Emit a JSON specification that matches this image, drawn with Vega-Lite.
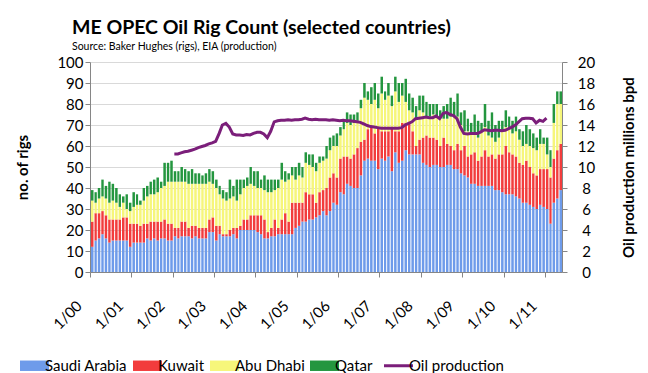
{
  "$schema": "https://vega.github.io/schema/vega-lite/v6.json",
  "width": 472,
  "height": 210,
  "autosize": {"type": "none"},
  "padding": {"left": 90, "top": 62, "right": 86, "bottom": 101},
  "background": "white",
  "config": {
    "font": "Lato",
    "view": {"stroke": null},
    "axis": {"domainColor": "#868686", "tickColor": "#868686", "labelColor": "black", "titleColor": "black", "gridColor": "#D9D9D9"}
  },
  "title": {
    "text": "ME OPEC Oil Rig Count (selected countries)",
    "subtitle": "Source: Baker Hughes (rigs), EIA (production)",
    "anchor": "start",
    "frame": "group",
    "dx": -18,
    "font": "Lato",
    "fontSize": 19.5,
    "fontWeight": "bold",
    "color": "black",
    "subtitleFont": "Lato",
    "subtitleFontSize": 10.5,
    "subtitleColor": "black",
    "subtitlePadding": 3,
    "offset": 2
  },
  "data": {"values": [
    {"m":"2000-01-15","Saudi Arabia":12,"Kuwait":12,"Abu Dhabi":10,"Qatar":5},
    {"m":"2000-02-15","Saudi Arabia":15,"Kuwait":13,"Abu Dhabi":5,"Qatar":5},
    {"m":"2000-03-15","Saudi Arabia":16,"Kuwait":12,"Abu Dhabi":7,"Qatar":5},
    {"m":"2000-04-15","Saudi Arabia":18,"Kuwait":11,"Abu Dhabi":7,"Qatar":8},
    {"m":"2000-05-15","Saudi Arabia":16,"Kuwait":11,"Abu Dhabi":8,"Qatar":6},
    {"m":"2000-06-15","Saudi Arabia":14,"Kuwait":11,"Abu Dhabi":8,"Qatar":10},
    {"m":"2000-07-15","Saudi Arabia":15,"Kuwait":10,"Abu Dhabi":9,"Qatar":8},
    {"m":"2000-08-15","Saudi Arabia":15,"Kuwait":10,"Abu Dhabi":8,"Qatar":7},
    {"m":"2000-09-15","Saudi Arabia":15,"Kuwait":10,"Abu Dhabi":6,"Qatar":6},
    {"m":"2000-10-15","Saudi Arabia":15,"Kuwait":11,"Abu Dhabi":7,"Qatar":3},
    {"m":"2000-11-15","Saudi Arabia":15,"Kuwait":11,"Abu Dhabi":4,"Qatar":7},
    {"m":"2000-12-15","Saudi Arabia":12,"Kuwait":11,"Abu Dhabi":6,"Qatar":4},
    {"m":"2001-01-15","Saudi Arabia":14,"Kuwait":9,"Abu Dhabi":8,"Qatar":7},
    {"m":"2001-02-15","Saudi Arabia":14,"Kuwait":9,"Abu Dhabi":9,"Qatar":5},
    {"m":"2001-03-15","Saudi Arabia":14,"Kuwait":8,"Abu Dhabi":10,"Qatar":2},
    {"m":"2001-04-15","Saudi Arabia":14,"Kuwait":9,"Abu Dhabi":11,"Qatar":6},
    {"m":"2001-05-15","Saudi Arabia":16,"Kuwait":7,"Abu Dhabi":13,"Qatar":5},
    {"m":"2001-06-15","Saudi Arabia":15,"Kuwait":9,"Abu Dhabi":13,"Qatar":6},
    {"m":"2001-07-15","Saudi Arabia":16,"Kuwait":8,"Abu Dhabi":13,"Qatar":7},
    {"m":"2001-08-15","Saudi Arabia":15,"Kuwait":9,"Abu Dhabi":14,"Qatar":7},
    {"m":"2001-09-15","Saudi Arabia":16,"Kuwait":8,"Abu Dhabi":16,"Qatar":3},
    {"m":"2001-10-15","Saudi Arabia":16,"Kuwait":9,"Abu Dhabi":16,"Qatar":11},
    {"m":"2001-11-15","Saudi Arabia":15,"Kuwait":8,"Abu Dhabi":20,"Qatar":9},
    {"m":"2001-12-15","Saudi Arabia":15,"Kuwait":8,"Abu Dhabi":20,"Qatar":10},
    {"m":"2002-01-15","Saudi Arabia":17,"Kuwait":4,"Abu Dhabi":22,"Qatar":5,"oil":11.25},
    {"m":"2002-02-15","Saudi Arabia":16,"Kuwait":5,"Abu Dhabi":22,"Qatar":5,"oil":11.25},
    {"m":"2002-03-15","Saudi Arabia":17,"Kuwait":7,"Abu Dhabi":19,"Qatar":7,"oil":11.35},
    {"m":"2002-04-15","Saudi Arabia":17,"Kuwait":7,"Abu Dhabi":19,"Qatar":6,"oil":11.45},
    {"m":"2002-05-15","Saudi Arabia":17,"Kuwait":4,"Abu Dhabi":21,"Qatar":6,"oil":11.5},
    {"m":"2002-06-15","Saudi Arabia":16,"Kuwait":6,"Abu Dhabi":20,"Qatar":7,"oil":11.6},
    {"m":"2002-07-15","Saudi Arabia":17,"Kuwait":5,"Abu Dhabi":20,"Qatar":5,"oil":11.7},
    {"m":"2002-08-15","Saudi Arabia":16,"Kuwait":5,"Abu Dhabi":21,"Qatar":5,"oil":11.85},
    {"m":"2002-09-15","Saudi Arabia":16,"Kuwait":5,"Abu Dhabi":21,"Qatar":4,"oil":11.95},
    {"m":"2002-10-15","Saudi Arabia":16,"Kuwait":5,"Abu Dhabi":21,"Qatar":5,"oil":12.05},
    {"m":"2002-11-15","Saudi Arabia":19,"Kuwait":6,"Abu Dhabi":18,"Qatar":6,"oil":12.2},
    {"m":"2002-12-15","Saudi Arabia":19,"Kuwait":7,"Abu Dhabi":16,"Qatar":6,"oil":12.3},
    {"m":"2003-01-15","Saudi Arabia":15,"Kuwait":7,"Abu Dhabi":18,"Qatar":4,"oil":12.45},
    {"m":"2003-02-15","Saudi Arabia":18,"Kuwait":4,"Abu Dhabi":15,"Qatar":4,"oil":13.2},
    {"m":"2003-03-15","Saudi Arabia":17,"Kuwait":1,"Abu Dhabi":17,"Qatar":4,"oil":14.0},
    {"m":"2003-04-15","Saudi Arabia":17,"Kuwait":1,"Abu Dhabi":16,"Qatar":4,"oil":14.15},
    {"m":"2003-05-15","Saudi Arabia":17,"Kuwait":3,"Abu Dhabi":15,"Qatar":9,"oil":13.8},
    {"m":"2003-06-15","Saudi Arabia":18,"Kuwait":3,"Abu Dhabi":15,"Qatar":5,"oil":13.15},
    {"m":"2003-07-15","Saudi Arabia":16,"Kuwait":5,"Abu Dhabi":13,"Qatar":10,"oil":13.05},
    {"m":"2003-08-15","Saudi Arabia":20,"Kuwait":2,"Abu Dhabi":15,"Qatar":7,"oil":13.05},
    {"m":"2003-09-15","Saudi Arabia":20,"Kuwait":5,"Abu Dhabi":15,"Qatar":4,"oil":13.0},
    {"m":"2003-10-15","Saudi Arabia":20,"Kuwait":5,"Abu Dhabi":16,"Qatar":4,"oil":13.1},
    {"m":"2003-11-15","Saudi Arabia":20,"Kuwait":7,"Abu Dhabi":15,"Qatar":8,"oil":13.05},
    {"m":"2003-12-15","Saudi Arabia":20,"Kuwait":7,"Abu Dhabi":14,"Qatar":7,"oil":13.2},
    {"m":"2004-01-15","Saudi Arabia":19,"Kuwait":8,"Abu Dhabi":13,"Qatar":8,"oil":13.3},
    {"m":"2004-02-15","Saudi Arabia":18,"Kuwait":9,"Abu Dhabi":13,"Qatar":4,"oil":13.3},
    {"m":"2004-03-15","Saudi Arabia":16,"Kuwait":9,"Abu Dhabi":14,"Qatar":7,"oil":13.15},
    {"m":"2004-04-15","Saudi Arabia":16,"Kuwait":3,"Abu Dhabi":19,"Qatar":6,"oil":12.8},
    {"m":"2004-05-15","Saudi Arabia":17,"Kuwait":4,"Abu Dhabi":17,"Qatar":6,"oil":13.4},
    {"m":"2004-06-15","Saudi Arabia":17,"Kuwait":8,"Abu Dhabi":14,"Qatar":5,"oil":14.3},
    {"m":"2004-07-15","Saudi Arabia":18,"Kuwait":3,"Abu Dhabi":19,"Qatar":4,"oil":14.4},
    {"m":"2004-08-15","Saudi Arabia":18,"Kuwait":7,"Abu Dhabi":19,"Qatar":8,"oil":14.45},
    {"m":"2004-09-15","Saudi Arabia":18,"Kuwait":10,"Abu Dhabi":15,"Qatar":5,"oil":14.45},
    {"m":"2004-10-15","Saudi Arabia":18,"Kuwait":6,"Abu Dhabi":20,"Qatar":3,"oil":14.5},
    {"m":"2004-11-15","Saudi Arabia":18,"Kuwait":15,"Abu Dhabi":13,"Qatar":4,"oil":14.45},
    {"m":"2004-12-15","Saudi Arabia":21,"Kuwait":12,"Abu Dhabi":11,"Qatar":6,"oil":14.5},
    {"m":"2005-01-15","Saudi Arabia":22,"Kuwait":11,"Abu Dhabi":13,"Qatar":6,"oil":14.5},
    {"m":"2005-02-15","Saudi Arabia":24,"Kuwait":9,"Abu Dhabi":12,"Qatar":5,"oil":14.55},
    {"m":"2005-03-15","Saudi Arabia":24,"Kuwait":14,"Abu Dhabi":14,"Qatar":5,"oil":14.65},
    {"m":"2005-04-15","Saudi Arabia":25,"Kuwait":12,"Abu Dhabi":14,"Qatar":5,"oil":14.55},
    {"m":"2005-05-15","Saudi Arabia":25,"Kuwait":12,"Abu Dhabi":13,"Qatar":6,"oil":14.5},
    {"m":"2005-06-15","Saudi Arabia":26,"Kuwait":7,"Abu Dhabi":15,"Qatar":4,"oil":14.55},
    {"m":"2005-07-15","Saudi Arabia":27,"Kuwait":11,"Abu Dhabi":14,"Qatar":3,"oil":14.5},
    {"m":"2005-08-15","Saudi Arabia":29,"Kuwait":10,"Abu Dhabi":14,"Qatar":2,"oil":14.5},
    {"m":"2005-09-15","Saudi Arabia":27,"Kuwait":13,"Abu Dhabi":14,"Qatar":6,"oil":14.5},
    {"m":"2005-10-15","Saudi Arabia":29,"Kuwait":16,"Abu Dhabi":13,"Qatar":6,"oil":14.45},
    {"m":"2005-11-15","Saudi Arabia":33,"Kuwait":14,"Abu Dhabi":13,"Qatar":5,"oil":14.5},
    {"m":"2005-12-15","Saudi Arabia":32,"Kuwait":13,"Abu Dhabi":15,"Qatar":6,"oil":14.45},
    {"m":"2006-01-15","Saudi Arabia":38,"Kuwait":16,"Abu Dhabi":11,"Qatar":4,"oil":14.4},
    {"m":"2006-02-15","Saudi Arabia":37,"Kuwait":18,"Abu Dhabi":13,"Qatar":4,"oil":14.45},
    {"m":"2006-03-15","Saudi Arabia":42,"Kuwait":13,"Abu Dhabi":16,"Qatar":5,"oil":14.4},
    {"m":"2006-04-15","Saudi Arabia":41,"Kuwait":13,"Abu Dhabi":16,"Qatar":5,"oil":14.4},
    {"m":"2006-05-15","Saudi Arabia":40,"Kuwait":16,"Abu Dhabi":15,"Qatar":4,"oil":14.35},
    {"m":"2006-06-15","Saudi Arabia":40,"Kuwait":19,"Abu Dhabi":13,"Qatar":4,"oil":14.3},
    {"m":"2006-07-15","Saudi Arabia":46,"Kuwait":16,"Abu Dhabi":16,"Qatar":4,"oil":14.25},
    {"m":"2006-08-15","Saudi Arabia":53,"Kuwait":10,"Abu Dhabi":20,"Qatar":7,"oil":14.1},
    {"m":"2006-09-15","Saudi Arabia":54,"Kuwait":14,"Abu Dhabi":14,"Qatar":4,"oil":13.95},
    {"m":"2006-10-15","Saudi Arabia":53,"Kuwait":16,"Abu Dhabi":11,"Qatar":8,"oil":13.85},
    {"m":"2006-11-15","Saudi Arabia":53,"Kuwait":13,"Abu Dhabi":16,"Qatar":8,"oil":13.8},
    {"m":"2006-12-15","Saudi Arabia":49,"Kuwait":20,"Abu Dhabi":9,"Qatar":7,"oil":13.75},
    {"m":"2007-01-15","Saudi Arabia":54,"Kuwait":13,"Abu Dhabi":18,"Qatar":8,"oil":13.7},
    {"m":"2007-02-15","Saudi Arabia":53,"Kuwait":14,"Abu Dhabi":15,"Qatar":4,"oil":13.7},
    {"m":"2007-03-15","Saudi Arabia":55,"Kuwait":12,"Abu Dhabi":17,"Qatar":6,"oil":13.7},
    {"m":"2007-04-15","Saudi Arabia":48,"Kuwait":21,"Abu Dhabi":10,"Qatar":5,"oil":13.7},
    {"m":"2007-05-15","Saudi Arabia":57,"Kuwait":10,"Abu Dhabi":19,"Qatar":7,"oil":13.7},
    {"m":"2007-06-15","Saudi Arabia":52,"Kuwait":15,"Abu Dhabi":14,"Qatar":9,"oil":13.7},
    {"m":"2007-07-15","Saudi Arabia":53,"Kuwait":18,"Abu Dhabi":13,"Qatar":6,"oil":13.75},
    {"m":"2007-08-15","Saudi Arabia":58,"Kuwait":13,"Abu Dhabi":10,"Qatar":11,"oil":14.0},
    {"m":"2007-09-15","Saudi Arabia":56,"Kuwait":15,"Abu Dhabi":6,"Qatar":8,"oil":14.15},
    {"m":"2007-10-15","Saudi Arabia":56,"Kuwait":11,"Abu Dhabi":9,"Qatar":7,"oil":14.3},
    {"m":"2007-11-15","Saudi Arabia":56,"Kuwait":4,"Abu Dhabi":13,"Qatar":6,"oil":14.6},
    {"m":"2007-12-15","Saudi Arabia":56,"Kuwait":7,"Abu Dhabi":14,"Qatar":7,"oil":14.65},
    {"m":"2008-01-15","Saudi Arabia":52,"Kuwait":12,"Abu Dhabi":12,"Qatar":8,"oil":14.7},
    {"m":"2008-02-15","Saudi Arabia":51,"Kuwait":14,"Abu Dhabi":9,"Qatar":7,"oil":14.75},
    {"m":"2008-03-15","Saudi Arabia":50,"Kuwait":14,"Abu Dhabi":10,"Qatar":6,"oil":14.7},
    {"m":"2008-04-15","Saudi Arabia":51,"Kuwait":13,"Abu Dhabi":11,"Qatar":5,"oil":14.7},
    {"m":"2008-05-15","Saudi Arabia":51,"Kuwait":12,"Abu Dhabi":11,"Qatar":6,"oil":14.85},
    {"m":"2008-06-15","Saudi Arabia":50,"Kuwait":10,"Abu Dhabi":13,"Qatar":4,"oil":14.6},
    {"m":"2008-07-15","Saudi Arabia":50,"Kuwait":14,"Abu Dhabi":9,"Qatar":6,"oil":15.1},
    {"m":"2008-08-15","Saudi Arabia":51,"Kuwait":10,"Abu Dhabi":12,"Qatar":7,"oil":15.2},
    {"m":"2008-09-15","Saudi Arabia":51,"Kuwait":9,"Abu Dhabi":14,"Qatar":9,"oil":15.0},
    {"m":"2008-10-15","Saudi Arabia":49,"Kuwait":9,"Abu Dhabi":16,"Qatar":7,"oil":14.9},
    {"m":"2008-11-15","Saudi Arabia":49,"Kuwait":12,"Abu Dhabi":13,"Qatar":11,"oil":14.6},
    {"m":"2008-12-15","Saudi Arabia":47,"Kuwait":11,"Abu Dhabi":12,"Qatar":6,"oil":13.8},
    {"m":"2009-01-15","Saudi Arabia":46,"Kuwait":14,"Abu Dhabi":7,"Qatar":10,"oil":13.2},
    {"m":"2009-02-15","Saudi Arabia":45,"Kuwait":10,"Abu Dhabi":12,"Qatar":6,"oil":13.15},
    {"m":"2009-03-15","Saudi Arabia":42,"Kuwait":14,"Abu Dhabi":10,"Qatar":5,"oil":13.2},
    {"m":"2009-04-15","Saudi Arabia":42,"Kuwait":15,"Abu Dhabi":9,"Qatar":9,"oil":13.2},
    {"m":"2009-05-15","Saudi Arabia":41,"Kuwait":12,"Abu Dhabi":11,"Qatar":8,"oil":13.2},
    {"m":"2009-06-15","Saudi Arabia":41,"Kuwait":14,"Abu Dhabi":12,"Qatar":4,"oil":13.35},
    {"m":"2009-07-15","Saudi Arabia":41,"Kuwait":17,"Abu Dhabi":11,"Qatar":11,"oil":13.55},
    {"m":"2009-08-15","Saudi Arabia":41,"Kuwait":14,"Abu Dhabi":10,"Qatar":7,"oil":13.5},
    {"m":"2009-09-15","Saudi Arabia":41,"Kuwait":15,"Abu Dhabi":8,"Qatar":12,"oil":13.45},
    {"m":"2009-10-15","Saudi Arabia":39,"Kuwait":15,"Abu Dhabi":8,"Qatar":8,"oil":13.5},
    {"m":"2009-11-15","Saudi Arabia":39,"Kuwait":17,"Abu Dhabi":8,"Qatar":8,"oil":13.5},
    {"m":"2009-12-15","Saudi Arabia":38,"Kuwait":18,"Abu Dhabi":11,"Qatar":5,"oil":13.45},
    {"m":"2010-01-15","Saudi Arabia":37,"Kuwait":23,"Abu Dhabi":9,"Qatar":8,"oil":13.5},
    {"m":"2010-02-15","Saudi Arabia":37,"Kuwait":20,"Abu Dhabi":11,"Qatar":6,"oil":13.65},
    {"m":"2010-03-15","Saudi Arabia":37,"Kuwait":19,"Abu Dhabi":10,"Qatar":6,"oil":13.8},
    {"m":"2010-04-15","Saudi Arabia":36,"Kuwait":19,"Abu Dhabi":12,"Qatar":7,"oil":14.0},
    {"m":"2010-05-15","Saudi Arabia":35,"Kuwait":17,"Abu Dhabi":11,"Qatar":5,"oil":14.3},
    {"m":"2010-06-15","Saudi Arabia":33,"Kuwait":18,"Abu Dhabi":9,"Qatar":7,"oil":14.6},
    {"m":"2010-07-15","Saudi Arabia":33,"Kuwait":20,"Abu Dhabi":8,"Qatar":9,"oil":14.65},
    {"m":"2010-08-15","Saudi Arabia":32,"Kuwait":18,"Abu Dhabi":10,"Qatar":8,"oil":14.65},
    {"m":"2010-09-15","Saudi Arabia":31,"Kuwait":16,"Abu Dhabi":12,"Qatar":7,"oil":14.6},
    {"m":"2010-10-15","Saudi Arabia":30,"Kuwait":16,"Abu Dhabi":12,"Qatar":6,"oil":14.2},
    {"m":"2010-11-15","Saudi Arabia":32,"Kuwait":17,"Abu Dhabi":12,"Qatar":7,"oil":14.45},
    {"m":"2010-12-15","Saudi Arabia":31,"Kuwait":18,"Abu Dhabi":12,"Qatar":3,"oil":14.35},
    {"m":"2011-01-15","Saudi Arabia":30,"Kuwait":19,"Abu Dhabi":7,"Qatar":8,"oil":14.65},
    {"m":"2011-02-15","Saudi Arabia":23,"Kuwait":22,"Abu Dhabi":5,"Qatar":8},
    {"m":"2011-03-15","Saudi Arabia":33,"Kuwait":21,"Abu Dhabi":17,"Qatar":9},
    {"m":"2011-04-15","Saudi Arabia":35,"Kuwait":23,"Abu Dhabi":22,"Qatar":6},
    {"m":"2011-05-15","Saudi Arabia":39,"Kuwait":22,"Abu Dhabi":19,"Qatar":6}
  ]},
  "layer": [
    {
      "transform": [
        {"fold": ["Saudi Arabia", "Kuwait", "Abu Dhabi", "Qatar"], "as": ["series", "rigs"]},
        {"lookup": "series", "from": {"data": {"values": [
          {"series": "Saudi Arabia", "rank": 1},
          {"series": "Kuwait", "rank": 2},
          {"series": "Abu Dhabi", "rank": 3},
          {"series": "Qatar", "rank": 4}
        ]}, "key": "series", "fields": ["rank"]}}
      ],
      "mark": {"type": "bar"},
      "encoding": {
        "x": {
          "field": "m", "type": "temporal", "timeUnit": "yearmonth", "title": null,
          "scale": {"domain": [{"year": 2000, "month": 1, "date": 1}, {"year": 2011, "month": 6, "date": 1}], "nice": false},
          "axis": {"format": "%-m/%y", "tickCount": {"interval": "year", "step": 1}, "labelAngle": -45, "labelFontSize": 15, "tickSize": 5, "labelPadding": 21, "labelOffset": -16, "grid": false, "labelFlush": false, "labelOverlap": false}
        },
        "y": {
          "field": "rigs", "type": "quantitative", "stack": "zero",
          "scale": {"domain": [0, 100]},
          "axis": {"title": "no. of rigs", "values": [0,10,20,30,40,50,60,70,80,90,100], "grid": true, "labelFontSize": 15, "tickSize": 5, "labelPadding": 2, "titleFontSize": 15, "titleFontWeight": "bold", "titleX": -68, "titleY": 105, "titleAngle": -90, "titleAlign": "center", "titleBaseline": "middle"}
        },
        "order": {"field": "rank", "type": "quantitative", "sort": "ascending"},
        "color": {
          "field": "series", "type": "nominal",
          "scale": {"domain": ["Saudi Arabia", "Kuwait", "Abu Dhabi", "Qatar", "Oil production"], "range": ["#6E9BEA", "#F23C3C", "#F6F67A", "#24963F", "#7B1E7A"]},
          "legend": {
            "title": null, "orient": "none", "direction": "horizontal", "legendX": -63, "legendY": 296,
            "symbolSize": 841, "symbolType": "M-1,-0.36H1V0.36H-1Z", "labelFontSize": 15, "labelOffset": 3, "columnPadding": 5,
            "encode": {"symbols": {"update": {
              "shape": {"signal": "datum.value === 'Oil production' ? 'stroke' : 'M-1,-0.36H1V0.36H-1Z'"},
              "fill": {"signal": "datum.value === 'Oil production' ? 'transparent' : scale('color', datum.value)"},
              "stroke": {"signal": "datum.value === 'Oil production' ? scale('color', datum.value) : 'transparent'"},
              "strokeWidth": {"signal": "datum.value === 'Oil production' ? 3 : 0"},
              "opacity": {"value": 1}
            }}}
          }
        }
      }
    },
    {
      "transform": [{"filter": "isValid(datum.oil)"}],
      "mark": {"type": "line", "strokeWidth": 3},
      "encoding": {
        "x": {"field": "m", "type": "temporal", "title": null},
        "y": {
          "field": "oil", "type": "quantitative",
          "scale": {"domain": [0, 20]},
          "axis": {"orient": "right", "title": "Oil production millions bpd", "values": [0,2,4,6,8,10,12,14,16,18,20], "grid": false, "labelFontSize": 15, "tickSize": 5, "labelPadding": 19, "labelAlign": "center", "titleFontSize": 15, "titleFontWeight": "bold", "titleX": 66, "titleY": 105, "titleAngle": -90, "titleAlign": "center", "titleBaseline": "middle"}
        },
        "color": {"datum": "Oil production", "type": "nominal"}
      }
    }
  ],
  "resolve": {"scale": {"y": "independent"}}
}
